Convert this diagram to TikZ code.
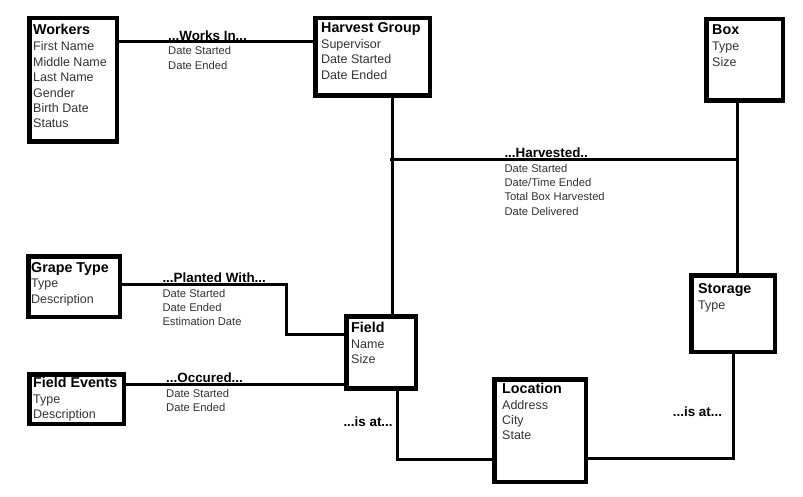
\documentclass[tikz,border=0pt]{standalone}
\usepackage{fontspec}
\setmainfont{Liberation Sans}
\usetikzlibrary{positioning}

\begin{document}
\begin{tikzpicture}[x=1pt,y=-1pt,
  ent/.style={draw,line width=4.6pt,inner sep=0pt},
  rel/.style={line width=3pt},
  etxt/.style={anchor=base west,inner sep=0pt,text=black!80,font=\fontsize{12.5}{15.4}\selectfont},
  rtxt/.style={anchor=base west,inner sep=0pt,text=black!80,font=\fontsize{11.2}{14.3}\selectfont},
  ltxt/.style={anchor=base west,inner sep=0pt,font=\fontsize{13.4}{14.3}\selectfont\bfseries}]
\useasboundingbox (0,0) rectangle (803,497);

\node[ent,minimum width=87.6pt,minimum height=123.6pt] (workers) at (73,80) {};
\node[ent,minimum width=114.6pt,minimum height=77.6pt] (hg) at (372.5,57) {};
\node[ent,minimum width=76.6pt,minimum height=81.6pt] (box) at (744.5,60) {};
\node[ent,minimum width=91.6pt,minimum height=60.6pt] (grape) at (74,286.5) {};
\node[ent,minimum width=94.6pt,minimum height=49.6pt] (fevents) at (76.5,399) {};
\node[ent,minimum width=69.6pt,minimum height=72pt] (field) at (381.3,352.5) {};
\node[ent,minimum width=91.6pt,minimum height=102.6pt] (location) at (540,430.5) {};
\node[ent,minimum width=83.6pt,minimum height=76.6pt] (storage) at (733,313.5) {};

\node[etxt] (workers-t) at (33,35) {\parbox[t]{90pt}{\leavevmode{\color{black}\fontsize{14.3}{15.4}\selectfont\bfseries Workers}\\[0.6pt]First Name\\Middle Name\\Last Name\\Gender\\Birth Date\\Status}};
\node[etxt] (hg-t) at (321,32.5) {\parbox[t]{110pt}{\leavevmode{\color{black}\fontsize{14.3}{15.4}\selectfont\bfseries Harvest Group}\\[0.6pt]Supervisor\\Date Started\\Date Ended}};
\node[etxt] (box-t) at (712,35) {\parbox[t]{70pt}{\leavevmode{\color{black}\fontsize{14.3}{15.4}\selectfont\bfseries Box}\\[0.6pt]Type\\Size}};
\node[etxt] (grape-t) at (31,272) {\parbox[t]{90pt}{\leavevmode{\color{black}\fontsize{14.3}{15.4}\selectfont\bfseries Grape Type}\\[0.6pt]Type\\Description}};
\node[etxt] (fevents-t) at (33,387) {\parbox[t]{90pt}{\leavevmode{\color{black}\fontsize{14.3}{15.4}\selectfont\bfseries Field Events}\\[0.6pt]Type\\Description}};
\node[etxt] (field-t) at (351,332) {\parbox[t]{60pt}{\leavevmode{\color{black}\fontsize{14.3}{15.4}\selectfont\bfseries Field}\\[0.6pt]Name\\Size}};
\node[etxt] (location-t) at (502,393) {\parbox[t]{80pt}{\leavevmode{\color{black}\fontsize{14.3}{15.4}\selectfont\bfseries Location}\\[0.6pt]Address\\City\\State}};
\node[etxt] (storage-t) at (698,293) {\parbox[t]{80pt}{\leavevmode{\color{black}\fontsize{14.3}{15.4}\selectfont\bfseries Storage}\\[0.6pt]Type}};

\coordinate (hv) at (392,160);
\coordinate (bv) at (737,160);
\draw[rel] (workers.east |- 0,42) -- (hg.west |- 0,42);
\draw[rel] (hg.south -| hv) -- (field.north -| hv);
\draw[rel] (box.south -| bv) -- (storage.north -| bv);
\draw[rel] ([xshift=-2pt]hv) -- ([xshift=1.5pt]bv);
\draw[rel] (grape.east |- 0,284) -- ++(164,0) |- (field.west |- 0,334);
\draw[rel] (fevents.east |- 0,384) -- (field.west |- 0,384);
\draw[rel] (field.south -| 397,0) |- (location.west |- 0,459);
\draw[rel] (location.east |- 0,458) -| (storage.south);

\node[rtxt] (worksin) at (168,40.5) {\parbox[t]{100pt}{\leavevmode{\color{black}\fontsize{13.4}{14.3}\selectfont\bfseries ...Works In...}\\Date Started\\Date Ended}};
\node[rtxt] (harvested) at (504.3,158) {\parbox[t]{120pt}{\leavevmode{\color{black}\fontsize{13.4}{14.3}\selectfont\bfseries ...Harvested..}\\Date Started\\Date/Time Ended\\Total Box Harvested\\Date Delivered}};
\node[rtxt] (planted) at (162.3,282.7) {\parbox[t]{120pt}{\leavevmode{\color{black}\fontsize{13.4}{14.3}\selectfont\bfseries ...Planted With...}\\Date Started\\Date Ended\\Estimation Date}};
\node[rtxt] (occured) at (166,382.7) {\parbox[t]{100pt}{\leavevmode{\color{black}\fontsize{13.4}{14.3}\selectfont\bfseries ...Occured...}\\Date Started\\Date Ended}};
\node[ltxt] (isat1) at (343.3,426) {...is at...};
\node[ltxt] (isat2) at (672.7,416.7) {...is at...};
\end{tikzpicture}
\end{document}
